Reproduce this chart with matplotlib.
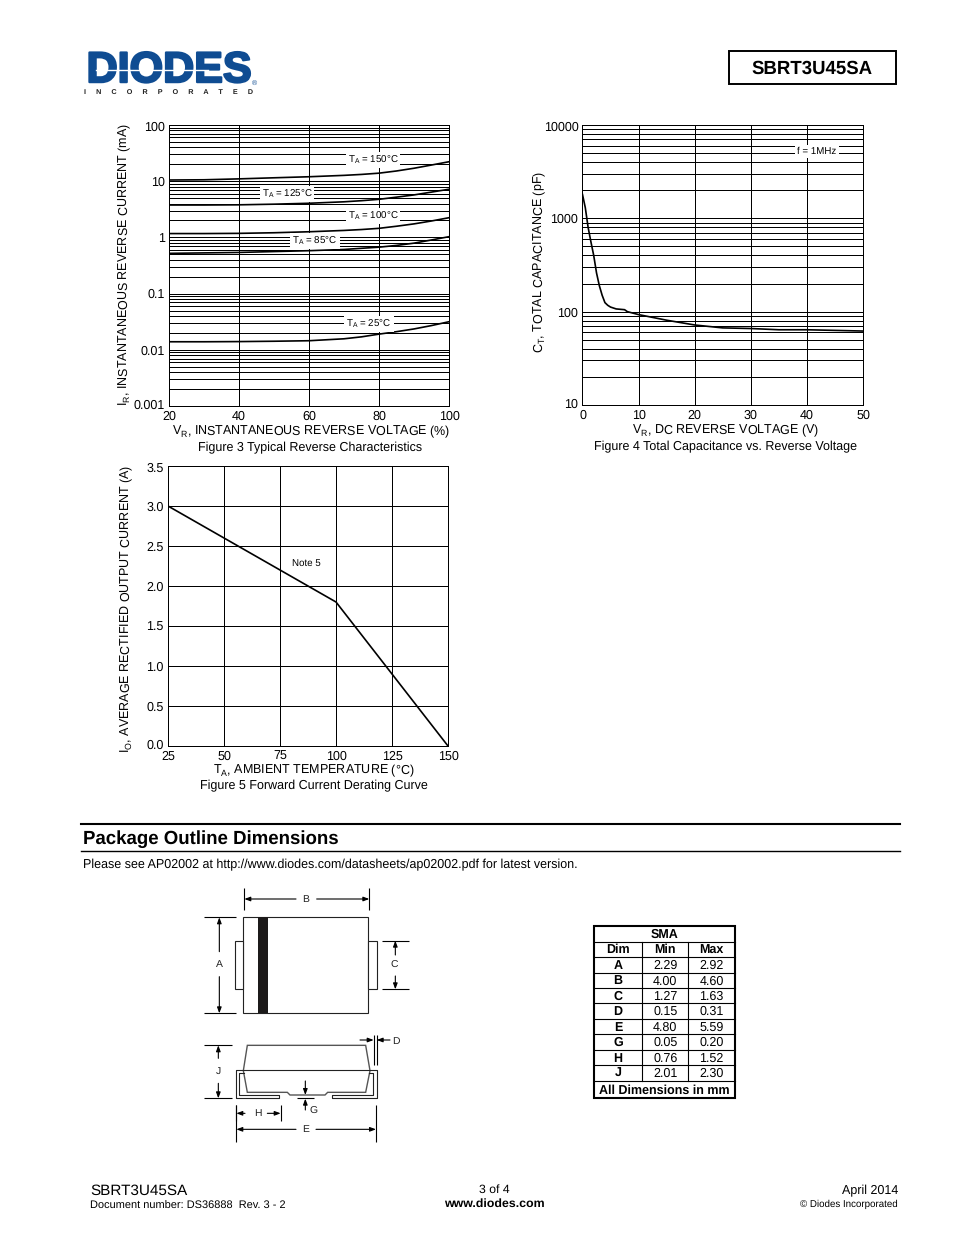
import matplotlib
matplotlib.use("Agg")
import matplotlib.pyplot as plt
from matplotlib.patches import Rectangle, Polygon
from matplotlib.transforms import ScaledTranslation
from matplotlib.ticker import NullFormatter, LogLocator
import matplotlib.patheffects as pe

plt.rcParams['font.family'] = ['Liberation Sans', 'DejaVu Sans']
plt.rcParams['mathtext.fontset'] = 'custom'
plt.rcParams['mathtext.rm'] = 'Liberation Sans'
plt.rcParams['mathtext.it'] = 'Liberation Sans'
plt.rcParams['mathtext.default'] = 'regular'
plt.rcParams['text.hinting'] = 'no_hinting'
plt.rcParams['text.hinting_factor'] = 8

W, H = 954, 1235
LBL = 9.0
LW = 0.72

# Figure 3 data
vr_pct = [20, 30, 40, 50, 60, 70, 75, 80, 85, 90, 95, 100]
ir_150 = [10.5, 10.6, 11.0, 11.5, 12.0, 12.7, 13.2, 13.9, 15.2, 17.0, 19.4, 22.2]
ir_125 = [3.77, 3.77, 3.8, 3.9, 4.05, 4.3, 4.5, 4.76, 5.2, 5.7, 6.4, 7.2]
ir_100 = [1.17, 1.17, 1.18, 1.21, 1.26, 1.33, 1.38, 1.45, 1.58, 1.74, 1.96, 2.24]
ir_85 = [0.52, 0.53, 0.54, 0.56, 0.58, 0.61, 0.64, 0.67, 0.72, 0.79, 0.90, 1.03]
ir_25 = [0.0139, 0.0139, 0.014, 0.0142, 0.0145, 0.0157, 0.017, 0.019, 0.021, 0.0235, 0.027, 0.0316]
# Figure 4 data
vr_dc = [0, 0.5, 1, 1.5, 2, 2.5, 3, 3.5, 4, 4.5, 5, 6, 7.5, 8, 10, 15, 20, 25, 30, 35, 40, 50]
ct_pf = [1800, 1300, 800, 560, 400, 260, 190, 150, 125, 117, 112, 107, 105, 100, 93, 81, 72, 67, 66, 64, 64, 62]
# Figure 5 data
ta = [25, 100, 150]
io = [3.0, 1.8, 0.0]
ta_ticks = [25, 50, 75, 100, 125, 150]
io_ticks = [0, 0.5, 1, 1.5, 2, 2.5, 3, 3.5]
io_labels = ['0.0', '0.5', '1.0', '1.5', '2.0', '2.5', '3.0', '3.5']
# Dimension table
table_dim = ['A', 'B', 'C', 'D', 'E', 'G', 'H', 'J']
table_min = ['2.29', '4.00', '1.27', '0.15', '4.80', '0.05', '0.76', '2.01']
table_max = ['2.92', '4.60', '1.63', '0.31', '5.59', '0.20', '1.52', '2.30']

fig = plt.figure(figsize=(W / 100, H / 100), dpi=100, facecolor='white')
ov = fig.add_axes([0, 0, 1, 1], zorder=10)
ov.set_xlim(0, W)
ov.set_ylim(H, 0)
ov.axis('off')


def make_ax(x0, x1, y0, y1):
    a = fig.add_axes([x0 / W, 1 - y1 / H, (x1 - x0) / W, (y1 - y0) / H], zorder=1)
    for s in a.spines.values():
        s.set_linewidth(LW)
    a.tick_params(which='both', length=0, labelsize=LBL, pad=3)
    a.grid(True, which='both', color='black', lw=LW)
    a.set_axisbelow(True)
    return a


def fix_edges(a):
    # first and last value labels sit just inside the plot edges
    labs = a.get_yticklabels()
    labs[0].set_transform(labs[0].get_transform() + ScaledTranslation(0, 2 / 100, fig.dpi_scale_trans))
    labs[-1].set_transform(labs[-1].get_transform() + ScaledTranslation(0, -1.5 / 100, fig.dpi_scale_trans))


def tag(x, y, s, box=True, fs=7.0):
    kw = dict(bbox=dict(fc='white', ec='none', pad=1.5)) if box else {}
    ov.text(x, y, s, ha='center', va='center', fontsize=fs, **kw)


# ---------- Figure 3
a3 = make_ax(169, 449, 125, 406)
for vals in (ir_150, ir_125, ir_100, ir_85, ir_25):
    a3.plot(vr_pct, vals, color='black', lw=1.2)
a3.set_yscale('log')
a3.set_xlim(20, 100)
a3.set_ylim(0.001, 100)
a3.set_xticks([20, 40, 60, 80, 100])
a3.set_yticks([0.001, 0.01, 0.1, 1, 10, 100])
a3.set_yticklabels(['0.001', '0.01', '0.1', '1', '10', '100'])
a3.yaxis.set_minor_formatter(NullFormatter())
a3.yaxis.set_minor_locator(LogLocator(10, subs=range(2, 10), numticks=12))
fix_edges(a3)
a3.set_xlabel('V$_{R}$, INSTANTANEOUS REVERSE VOLTAGE (%)', fontsize=LBL)
a3.xaxis.set_label_coords(311, 424, transform=ov.transData)
a3.set_ylabel('I$_{R}$, INSTANTANEOUS REVERSE CURRENT (mA)', fontsize=LBL)
a3.yaxis.set_label_coords(133, 264, transform=ov.transData)
ov.text(310, 447.5, 'Figure 3 Typical Reverse Characteristics', ha='center', va='center', fontsize=LBL)
tag(373, 160, 'T$_{A}$ = 150°C')
tag(287, 194, 'T$_{A}$ = 125°C')
tag(373, 216, 'T$_{A}$ = 100°C')
tag(315, 241, 'T$_{A}$ = 85°C')
tag(369, 324, 'T$_{A}$ = 25°C')

# ---------- Figure 4
a4 = make_ax(582.5, 863, 125, 405)
a4.plot(vr_dc, ct_pf, color='black', lw=1.2)
a4.set_yscale('log')
a4.set_xlim(0, 50)
a4.set_ylim(10, 10000)
a4.set_xticks([0, 10, 20, 30, 40, 50])
a4.set_yticks([10, 100, 1000, 10000])
a4.set_yticklabels(['10', '100', '1000', '10000'])
a4.yaxis.set_minor_formatter(NullFormatter())
a4.yaxis.set_minor_locator(LogLocator(10, subs=range(2, 10), numticks=12))
fix_edges(a4)
a4.set_xlabel('V$_{R}$, DC REVERSE VOLTAGE (V)', fontsize=LBL)
a4.xaxis.set_label_coords(726, 423, transform=ov.transData)
a4.set_ylabel('C$_{T}$, TOTAL CAPACITANCE (pF)', fontsize=LBL)
a4.yaxis.set_label_coords(548.5, 262, transform=ov.transData)
ov.text(726, 446.5, 'Figure 4 Total Capacitance vs. Reverse Voltage', ha='center', va='center', fontsize=LBL)
tag(817, 151.5, 'f = 1MHz')

# ---------- Figure 5
a5 = make_ax(168, 448, 466, 746)
a5.plot(ta, io, color='black', lw=1.2)
a5.set_xlim(25, 150)
a5.set_ylim(0, 3.5)
a5.set_xticks(ta_ticks)
a5.set_yticks(io_ticks)
a5.set_yticklabels(io_labels)
fix_edges(a5)
a5.set_xlabel('T$_{A}$, AMBIENT TEMPERATURE (°C)', fontsize=LBL)
a5.xaxis.set_label_coords(314, 763, transform=ov.transData)
a5.set_ylabel('I$_{O}$, AVERAGE RECTIFIED OUTPUT CURRENT (A)', fontsize=LBL)
a5.yaxis.set_label_coords(135, 609, transform=ov.transData)
ov.text(314, 785.5, 'Figure 5 Forward Current Derating Curve', ha='center', va='center', fontsize=LBL)
tag(306.5, 563, 'Note 5', box=False)

# ---------- Page furniture
BLUE = '#0f4c92'
logo = ov.text(169, 71, 'DIODES', color=BLUE, fontsize=31, fontweight='bold', ha='center', va='center')
logo.set_path_effects([pe.withStroke(linewidth=1.6, foreground=BLUE)])
ov.plot([96, 208], [69.5, 69.5], color='white', lw=1.0, zorder=5)
ov.text(251.5, 83, '®', color=BLUE, fontsize=5, ha='left', va='center')
ov.text(169, 92.5, '     '.join('INCORPORATED'), color='#222222', fontsize=5.2,
        fontweight='bold', ha='center', va='center')
ov.add_patch(Rectangle((729, 51), 167, 33, fc='white', ec='black', lw=1.4))
ov.text(812.5, 69, 'SBRT3U45SA', fontsize=13.4, fontweight='bold', ha='center', va='center')

ov.plot([81, 900], [824, 824], color='black', lw=1.5)
ov.plot([81, 900], [851, 851], color='black', lw=1.0)
ov.text(83, 839, 'Package Outline Dimensions', fontsize=13.4, fontweight='bold', va='center')
ov.text(83, 865, 'Please see AP02002 at http://www.diodes.com/datasheets/ap02002.pdf for latest version.',
        fontsize=9.0, va='center')

ov.text(90, 1191, 'SBRT3U45SA', fontsize=11.0, va='center')
ov.text(90, 1206, 'Document number: DS36888  Rev. 3 - 2', fontsize=7.9, va='center')
ov.text(494, 1190, '3 of 4', fontsize=8.8, ha='center', va='center')
ov.text(494, 1204, 'www.diodes.com', fontsize=8.9, fontweight='bold', ha='center', va='center')
ov.text(898, 1191, 'April 2014', fontsize=9.0, ha='right', va='center')
ov.text(898, 1204, '© Diodes Incorporated', fontsize=7.0, ha='right', va='center')


# ---------- Package drawing (coordinates scaled from a 3x crop at 190, 880)
def X(z):
    return 190 + z / 3


def Y(z):
    return 880 + z / 3


def seg(x0, y0, x1, y1, lw=0.8, color='black'):
    ov.plot([X(x0), X(x1)], [Y(y0), Y(y1)], color=color, lw=lw, solid_capstyle='butt')


def arrow(x0, y0, x1, y1):
    ov.annotate('', xy=(X(x1), Y(y1)), xytext=(X(x0), Y(y0)),
                arrowprops=dict(arrowstyle='-|>,head_length=0.35,head_width=0.13', color='black',
                                lw=0.8, shrinkA=0, shrinkB=0))


def letter(x, y, s):
    ov.text(X(x), Y(y), s, fontsize=7.5, color='#222222', ha='center', va='center')


ov.add_patch(Rectangle((X(160), Y(112)), 375 / 3, 288 / 3, fc='white', ec='#222222', lw=0.8))
ov.add_patch(Rectangle((X(204), Y(112)), 30 / 3, 288 / 3, fc='#1c1a1a', ec='none'))
ov.add_patch(Rectangle((X(136), Y(182)), 24 / 3, 146 / 3, fc='white', ec='#222222', lw=0.8))
ov.add_patch(Rectangle((X(535), Y(182)), 25 / 3, 146 / 3, fc='white', ec='#222222', lw=0.8))

for y in (112, 400):
    seg(42, y, 138, y)
arrow(88, 215, 88, 112)
arrow(88, 290, 88, 400)
letter(88, 253, 'A')

for x in (163, 538):
    seg(x, 25, x, 90)
arrow(318, 57, 163, 57)
arrow(380, 57, 538, 57)
letter(347, 57, 'B')

for y in (182, 328):
    seg(577, y, 658, y)
arrow(616, 225, 616, 182)
arrow(616, 288, 616, 328)
letter(614, 255, 'C')

body = [(172, 496), (527, 496), (540, 572), (527, 637), (413, 637), (405, 645), (300, 645),
        (292, 637), (172, 637), (160, 572)]
ov.add_patch(Polygon([(X(a), Y(b)) for a, b in body], closed=True, fc='white', ec='#555555', lw=1.0))
lead = [(162, 580), (148, 580), (148, 644), (268, 644), (268, 655), (139, 655), (139, 571), (560, 571),
        (560, 655), (427, 655), (427, 644), (548, 644), (548, 580), (538, 580)]
ov.plot([X(a) for a, b in lead], [Y(b) for a, b in lead], color='#222222', lw=0.8)

for y in (496, 655):
    seg(42, y, 125, y)
arrow(85, 535, 85, 496)
arrow(85, 610, 85, 655)
letter(85, 573, 'J')

for x in (551, 560):
    seg(x, 465, x, 555)
arrow(510, 480, 551, 480)
arrow(600, 480, 560, 480)
letter(618, 483, 'D')

seg(322, 655, 372, 655)
arrow(346, 603, 346, 645)
arrow(346, 690, 346, 656)
letter(371, 695, 'G')

for x in (139, 272):
    seg(x, 675, x, 722)
arrow(165, 700, 139, 700)
arrow(232, 700, 272, 700)
letter(203, 701, 'H')

for x in (139, 558):
    seg(x, 675, x, 785)
arrow(318, 748, 139, 748)
arrow(378, 748, 558, 748)
letter(347, 748, 'E')

# ---------- Dimension table
tx0, tx1, c1, c2 = 594.5, 735, 642.3, 688.3
ty0, ty1 = 926, 1098
row_h = 15.45
y_rows = [941.6 + i * row_h for i in range(10)]
ov.add_patch(Rectangle((tx0, ty0), tx1 - tx0, ty1 - ty0, fc='white', ec='black', lw=1.5))
for y in y_rows:
    ov.plot([tx0, tx1], [y, y], color='black', lw=0.8)
for x in (c1, c2):
    ov.plot([x, x], [y_rows[0], y_rows[-1]], color='black', lw=0.8)
FS = 9.0
xc = [(tx0 + c1) / 2 - 0.5, (c1 + c2) / 2, (c2 + tx1) / 2]
DY = 0.8
ov.text((tx0 + tx1) / 2, (ty0 + y_rows[0]) / 2 + DY, 'SMA', fontsize=FS, fontweight='bold', ha='center', va='center')
for x, s in zip(xc, ['Dim', 'Min', 'Max']):
    ov.text(x, y_rows[0] + row_h / 2 + DY, s, fontsize=FS, fontweight='bold', ha='center', va='center')
for i, (d, lo, hi) in enumerate(zip(table_dim, table_min, table_max)):
    y = y_rows[1] + (i + 0.5) * row_h + DY
    ov.text(xc[0], y, d, fontsize=FS, fontweight='bold', ha='center', va='center')
    ov.text(xc[1], y, lo, fontsize=FS, ha='center', va='center')
    ov.text(xc[2], y, hi, fontsize=FS, ha='center', va='center')
ov.text((tx0 + tx1) / 2, (y_rows[-1] + ty1) / 2 + DY, 'All Dimensions in mm', fontsize=FS, fontweight='bold',
        ha='center', va='center')

fig.savefig('out.png', dpi=100)
